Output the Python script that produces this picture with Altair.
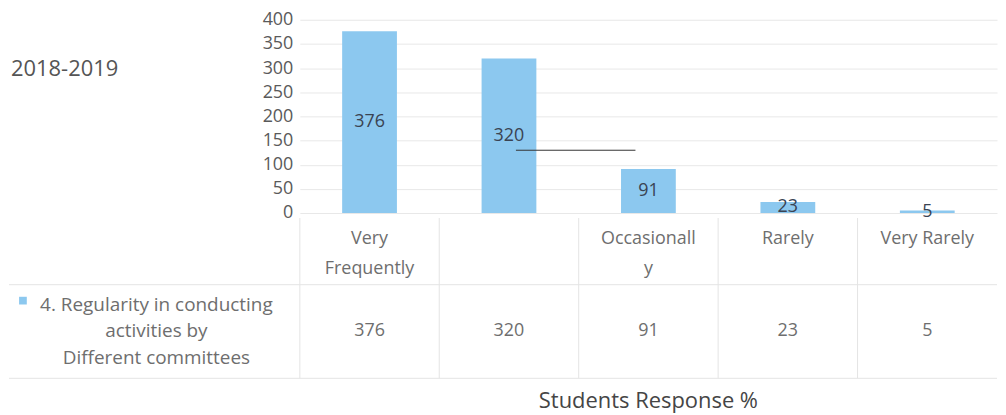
import altair as alt
import pandas as pd

# ---- data ----
categories = ["Very Frequently", "Frequently", "Occasionally", "Rarely", "Very Rarely"]
header_labels = ["Very\nFrequently", "", "Occasionall\ny", "Rarely", "Very Rarely"]
values = [376, 320, 91, 23, 5]
series_name = "4. Regularity in conducting\nactivities by\nDifferent committees"
year_label = "2018-2019"
axis_title = "Students Response %"
y_ticks = [0, 50, 100, 150, 200, 250, 300, 350, 400]

df = pd.DataFrame({"cat": categories, "header": header_labels, "value": values})
one = pd.DataFrame({"k": [0]})

W, H = 700, 194
FONT = "Open Sans"
BLUE = "#8cc8ef"
GRAY_TXT = "#6e6e6e"
LINE = "#e4e4e4"

xs = alt.Scale(paddingInner=0, paddingOuter=0)
x = alt.X("cat:N", sort=categories, scale=xs, axis=None)
y_scale = alt.Scale(domain=[0, 400], nice=False)
y_axis = alt.Axis(
    values=y_ticks, title=None, domain=False, ticks=False,
    labelFont=FONT, labelFontSize=18, labelColor="#5a5a5a",
    labelPadding=7, gridColor="#e8e8e8", gridWidth=1,
)

base = alt.Chart(df)

bars = base.mark_bar(size=55, color=BLUE).encode(
    x=x,
    y=alt.Y("value:Q", scale=y_scale, axis=y_axis),
)

bar_labels = base.transform_calculate(mid="datum.value / 2").mark_text(
    font=FONT, fontSize=18, color="#3a4352"
).encode(x=x, y=alt.Y("mid:Q", scale=y_scale, axis=y_axis), text="value:Q")

header = base.mark_text(
    font=FONT, fontSize=18, color=GRAY_TXT, lineBreak="\n", lineHeight=30, baseline="middle"
).encode(x=x, y=alt.value(220), text="header:N")

value_row = base.mark_text(font=FONT, fontSize=18, color=GRAY_TXT, baseline="middle").encode(
    x=x, y=alt.value(313), text="value:Q"
)

vlines = base.mark_rule(color=LINE, strokeWidth=1).encode(
    x=alt.X("cat:N", sort=categories, scale=xs, axis=None, bandPosition=0),
    y=alt.value(199), y2=alt.value(360),
)

c1 = alt.Chart(one)
hline1 = c1.mark_rule(color=LINE).encode(x=alt.value(-292), x2=alt.value(W), y=alt.value(266))
hline2 = c1.mark_rule(color=LINE).encode(x=alt.value(-292), x2=alt.value(W), y=alt.value(360))

legend_sq = c1.mark_square(size=60, color=BLUE, opacity=1).encode(
    x=alt.value(-278), y=alt.value(282)
)
row_label = c1.mark_text(
    text=series_name, lineBreak="\n", lineHeight=27, align="center", baseline="middle",
    font=FONT, fontSize=19, color=GRAY_TXT,
).encode(x=alt.value(-144), y=alt.value(286))

year = c1.mark_text(
    text=year_label, align="left", baseline="middle", font=FONT, fontSize=22, color="#555555"
).encode(x=alt.value(-290), y=alt.value(49))

title = c1.mark_text(
    text=axis_title, align="center", baseline="middle", font=FONT, fontSize=22, color="#454545"
).encode(x=alt.value(W / 2), y=alt.value(383))

stray = c1.mark_rule(color="#333333", strokeWidth=1).encode(
    x=alt.value(217), x2=alt.value(337), y=alt.value(131)
)

chart = alt.layer(
    bars, bar_labels, vlines, hline1, hline2, header, value_row,
    legend_sq, row_label, year, title, stray,
).properties(
    width=W, height=H, padding={"top": 2, "left": 0, "right": 0, "bottom": 0}
).configure_view(stroke=None)

chart.save("out.html", embed_options={"renderer": "svg", "actions": False})
